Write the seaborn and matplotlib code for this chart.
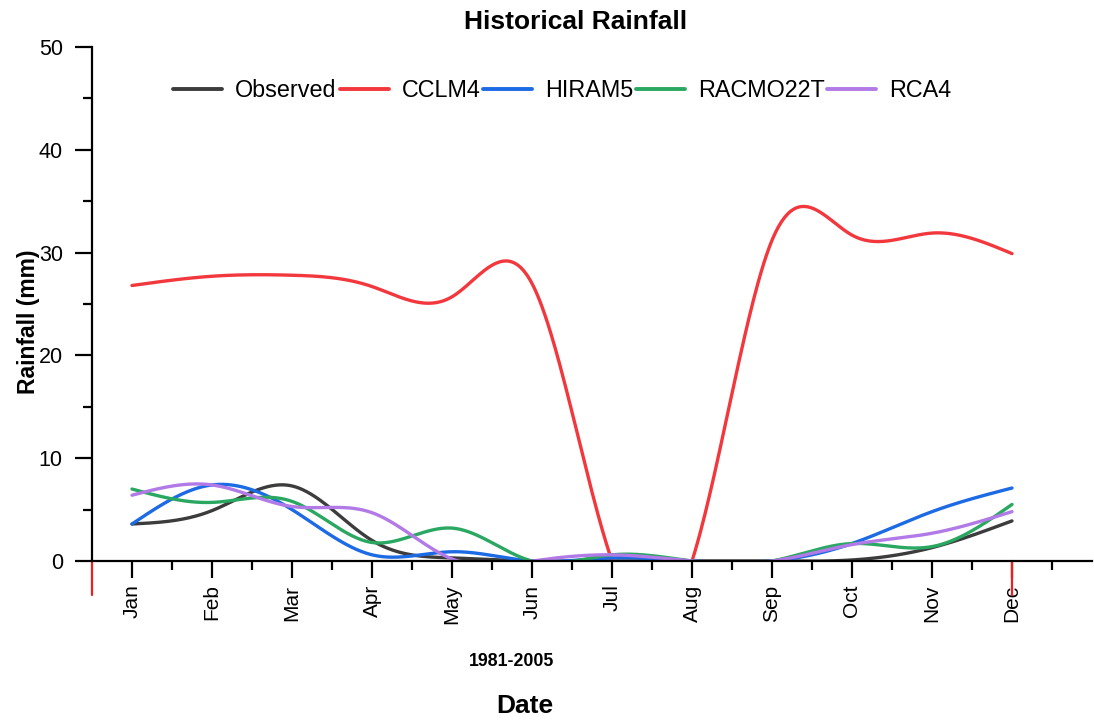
import numpy as np
import pandas as pd
import seaborn as sns
import matplotlib.pyplot as plt
from matplotlib.ticker import MultipleLocator, FixedLocator
from matplotlib.lines import Line2D

# Monthly mean rainfall (mm), 1981-2005
months = ['Jan', 'Feb', 'Mar', 'Apr', 'May', 'Jun', 'Jul', 'Aug', 'Sep', 'Oct', 'Nov', 'Dec']
observed = [3.6, 4.9, 7.3, 2.0, 0.3, 0.0, 0.0, 0.0, 0.0, 0.1, 1.3, 3.9]
cclm4 = [26.8, 27.7, 27.8, 26.7, 25.7, 27.0, 0.0, 0.0, 31.2, 31.7, 31.9, 29.9]
hiram5 = [3.6, 7.4, 5.0, 0.6, 0.9, 0.0, 0.3, 0.0, 0.0, 1.7, 4.8, 7.1]
racmo22t = [7.0, 5.7, 5.8, 1.8, 3.2, 0.0, 0.6, 0.0, 0.0, 1.7, 1.4, 5.5]
rca4 = [6.4, 7.4, 5.3, 4.7, 0.2, 0.0, 0.6, 0.0, 0.0, 1.6, 2.7, 4.8]

series = {'Observed': observed, 'CCLM4': cclm4, 'HIRAM5': hiram5,
          'RACMO22T': racmo22t, 'RCA4': rca4}
colors = {'Observed': '#3c3c3c', 'CCLM4': '#f2373d', 'HIRAM5': '#1c6ae4',
          'RACMO22T': '#2aa862', 'RCA4': '#b27ae6'}


def natural_spline(x, y, xs):
    # natural cubic spline through (x, y), evaluated at xs (Origin-like "Spline" connection)
    x = np.asarray(x, float)
    y = np.asarray(y, float)
    n = len(x)
    h = np.diff(x)
    A = np.zeros((n, n))
    r = np.zeros(n)
    A[0, 0] = A[-1, -1] = 1
    for i in range(1, n - 1):
        A[i, i - 1] = h[i - 1]
        A[i, i] = 2 * (h[i - 1] + h[i])
        A[i, i + 1] = h[i]
        r[i] = 6 * ((y[i + 1] - y[i]) / h[i] - (y[i] - y[i - 1]) / h[i - 1])
    M = np.linalg.solve(A, r)
    k = np.clip(np.searchsorted(x, xs) - 1, 0, n - 2)
    t0 = x[k + 1] - xs
    t1 = xs - x[k]
    hk = h[k]
    return (M[k] * t0 ** 3 / (6 * hk) + M[k + 1] * t1 ** 3 / (6 * hk)
            + (y[k] / hk - M[k] * hk / 6) * t0 + (y[k + 1] / hk - M[k + 1] * hk / 6) * t1)


xpos = np.arange(len(months))
xs = np.linspace(0, len(months) - 1, 600)
frames = []
for name, vals in series.items():
    frames.append(pd.DataFrame({'x': xs, 'rain': natural_spline(xpos, vals, xs), 'model': name}))
df = pd.concat(frames, ignore_index=True)

sns.set_style('white')
plt.rcParams['font.family'] = ['Liberation Sans', 'DejaVu Sans']
plt.rcParams['text.color'] = 'black'
plt.rcParams['xtick.color'] = 'black'
plt.rcParams['ytick.color'] = 'black'
plt.rcParams['axes.labelcolor'] = 'black'

fig = plt.figure(figsize=(10.94, 7.2), dpi=100)
ax = fig.add_axes([92 / 1094, 159 / 720, 1000 / 1094, 514 / 720])
sns.lineplot(data=df, x='x', y='rain', hue='model', palette=colors, sort=False,
             estimator=None, linewidth=2.4, ax=ax, legend=False)

ax.set_xlim(-0.5, 12.0)
ax.set_ylim(0, 50)
for s in ['top', 'right']:
    ax.spines[s].set_visible(False)
for s in ['left', 'bottom']:
    ax.spines[s].set_linewidth(1.6)
    ax.spines[s].set_color('black')

ax.set_xticks(xpos)
ax.set_xticklabels(months, rotation=90, fontsize=15)
ax.xaxis.set_minor_locator(FixedLocator(np.arange(0.5, 12, 1)))
ax.yaxis.set_major_locator(MultipleLocator(10))
ax.yaxis.set_minor_locator(MultipleLocator(5))
ax.tick_params(axis='both', which='major', direction='out', length=12, width=1.6,
               color='black', bottom=True, left=True)
ax.tick_params(axis='both', which='minor', direction='out', length=6.5, width=1.6,
               color='black', bottom=True, left=True)
ax.tick_params(axis='x', which='major', pad=5)
ax.tick_params(axis='y', which='major', labelsize=15.5, pad=9)
ax.set_xlabel('')
ax.set_ylabel('')

# red markers below the axis at the start of the axis and at Dec
tr = ax.get_xaxis_transform()
for xv in [-0.5, 11]:
    ax.plot([xv, xv], [0, -0.066], color='#f21e1e', lw=1.6, transform=tr, clip_on=False)

handles = [Line2D([], [], color=colors[n], lw=2.8) for n in series]
fig.legend(handles, list(series), loc='center', bbox_to_anchor=(0.514, 0.874), ncol=5,
           frameon=False, fontsize=16.8, handlelength=2.1, handletextpad=0.55,
           columnspacing=0.12)

fig.text(0.526, 0.969, 'Historical Rainfall', ha='center', va='center',
         fontsize=19, fontweight='bold')
fig.text(0.026, 0.553, 'Rainfall (mm)', ha='center', va='center', rotation=90,
         fontsize=16.5, fontweight='bold')
fig.text(0.468, 0.081, '1981-2005', ha='center', va='center', fontsize=12.8, fontweight='bold')
fig.text(0.480, 0.020, 'Date', ha='center', va='center', fontsize=19, fontweight='bold')

fig.savefig('out.png', dpi=100)
